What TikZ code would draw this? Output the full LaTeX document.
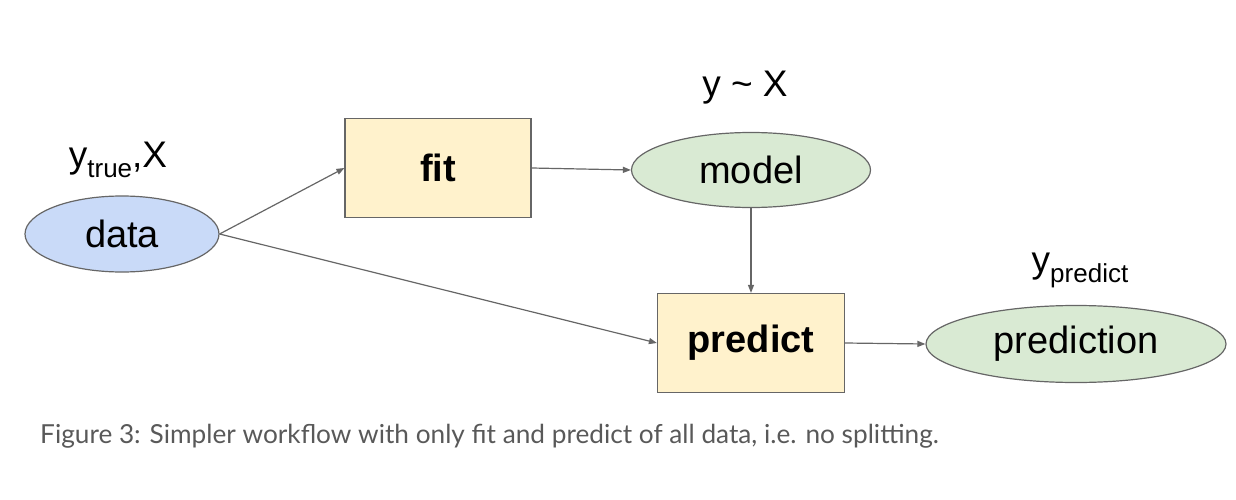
\documentclass[tikz,border=0pt]{standalone}
\usepackage{fontspec}
\setmainfont{Liberation Sans}
\newfontfamily\capfont{Lato}
\usetikzlibrary{shapes.geometric,arrows.meta}
\definecolor{databl}{HTML}{C9DAF8}
\definecolor{modelgr}{HTML}{D9EAD3}
\definecolor{stepyl}{HTML}{FFF2CC}
\definecolor{edgegr}{HTML}{666666}
\definecolor{capgr}{HTML}{595959}

\begin{document}
\begin{tikzpicture}[x=1pt, y=-1pt,
	blob/.style={ellipse, draw=edgegr, line width=1.2pt, inner sep=0pt, font=\fontsize{38}{44}\selectfont},
	stepbox/.style={rectangle, draw=edgegr, line width=1.2pt, fill=stepyl, inner sep=0pt, font=\fontsize{38}{44}\selectfont\bfseries},
	lbl/.style={font=\fontsize{37}{44}\selectfont, inner sep=0pt},
	flow/.style={-{Triangle[length=8pt,width=6pt]}, draw=edgegr, line width=1.2pt}]
\useasboundingbox (0,0) rectangle (1236,500);
\node[blob, fill=databl, minimum width=194pt, minimum height=76pt] (data) at (122,234) {data};
\node[stepbox, minimum width=186pt, minimum height=99pt] (fit) at (438,168) {fit};
\node[blob, fill=modelgr, minimum width=239pt, minimum height=75pt] (model) at (751,170) {model};
\node[stepbox, minimum width=187pt, minimum height=99pt] (predict) at (751,343) {predict};
\node[blob, fill=modelgr, minimum width=300pt, minimum height=77pt] (prediction) at (1076,344) {prediction};

\node[lbl] (datalbl) at (118,160) {y\raisebox{-10pt}{\fontsize{26}{30}\selectfont true},X};
\node[lbl] (modellbl) at (745,88) {y \textasciitilde\ X};
\node[lbl] (predlbl) at (1080,270) {y\raisebox{-10pt}{\fontsize{26}{30}\selectfont predict}};

\draw[flow] (data.east) -- (fit.west);
\draw[flow] (data.east) -- (predict.west);
\draw[flow] (fit.east) -- (model.west);
\draw[flow] (model.south) -- (predict.north);
\draw[flow] (predict.east) -- (prediction.west);

\node[anchor=west, inner sep=0pt, text=capgr, font=\capfont\fontsize{26.2}{30}\selectfont] (caption) at (40,436)
	{Figure 3: Simpler workflow with only fit and predict of all data, i.e. no splitting.};
\end{tikzpicture}
\end{document}
